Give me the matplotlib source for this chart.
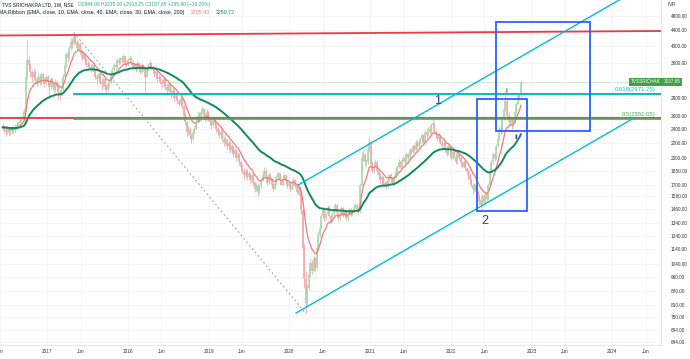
import numpy as np
import pandas as pd
import matplotlib
matplotlib.use("Agg")
import matplotlib.pyplot as plt
import matplotlib.dates as mdates
from matplotlib.patches import Rectangle
from matplotlib.transforms import blended_transform_factory

plt.rcParams['font.family'] = ['Liberation Sans', 'DejaVu Sans']

# --- weekly candles (close / high / low), week of 2016-06-13 .. 2022-11-14 ---
close_a = [2420, 2380, 2350, 2400, 2330, 2390, 2360, 2420, 2400, 2450,
           2480, 2520, 2560, 2600, 2680, 3300, 3650,
           3550, 3400, 3300, 3400, 3250, 3200,
           3300, 3200, 3350, 3250, 3150, 3300, 3200, 3100, 3250, 3150, 3050, 3200, 3100, 3000, 2950, 3050,
           3300, 3550, 3800, 3700, 3950, 4100, 4050, 4250]
high_a = [2480, 2450, 2410, 2440, 2420, 2420, 2410, 2460, 2470, 2490,
          2520, 2560, 2600, 2650, 2720, 3450, 4150,
          3750, 3600, 3450, 3480, 3450, 3320,
          3380, 3330, 3400, 3380, 3280, 3350, 3330, 3230, 3300, 3280, 3180, 3250, 3230, 3130, 3030, 3100,
          3350, 3600, 3850, 3880, 4000, 4200, 4180, 4334]
low_a = [2360, 2330, 2290, 2320, 2290, 2310, 2320, 2340, 2350, 2380,
         2420, 2450, 2490, 2530, 2580, 2650, 3250,
         3450, 3300, 3200, 3250, 3180, 3100,
         3150, 3130, 3150, 3200, 3100, 3130, 3150, 2950, 3070, 3100, 2950, 3030, 3050, 2900, 2870, 2930,
         3030, 3280, 3500, 3620, 3680, 3900, 3950, 4020]

close_b = [4100, 3950, 4050, 3850, 3700, 3800, 3650, 3550, 3600, 3500, 3450, 3550,
           3400, 3300, 3250, 3350, 3200, 3150, 3250, 3100, 3050, 3150, 3200, 3300,
           3450, 3550, 3500, 3650, 3600, 3700, 3650, 3750, 3600, 3550, 3650, 3700,
           3600, 3500, 3550, 3450, 3600, 3500, 3400, 3550, 3500, 3300, 3450, 3550, 3600, 3500]
high_b = [4280, 4150, 4120, 4080, 3900, 3850, 3820, 3700, 3650, 3620, 3550, 3600,
          3560, 3450, 3350, 3400, 3380, 3250, 3300, 3280, 3150, 3200, 3260, 3350,
          3500, 3600, 3580, 3700, 3680, 3740, 3720, 3790, 3760, 3650, 3700, 3760,
          3720, 3650, 3600, 3580, 3650, 3620, 3550, 3600, 3580, 3520, 3500, 3600, 3650, 3620]
low_b = [4050, 3900, 3920, 3800, 3650, 3680, 3600, 3500, 3500, 3450, 3400, 3420,
         3350, 3250, 3150, 3200, 3150, 3050, 3120, 3050, 2980, 3020, 3100, 3150,
         3280, 3400, 3450, 3480, 3550, 3580, 3600, 3620, 3580, 3500, 3520, 3620,
         3550, 3450, 3480, 3400, 3420, 3450, 3350, 3380, 3420, 3000, 3280, 3420, 3500, 3450]

close_c = [3450, 3350, 3400, 3250, 3300, 3200, 3150, 3250, 3100, 3050, 3150, 3000, 2950, 3050, 2900, 2950, 2850, 2800, 2900, 2750,
           2600, 2500, 2350, 2400, 2300, 2250, 2350, 2400, 2500,
           2600, 2550, 2650, 2700, 2600, 2550, 2650, 2550, 2500, 2450, 2550, 2450, 2400,
           2350, 2300, 2350, 2250, 2200, 2250, 2150, 2200, 2100, 2150, 2050, 2100, 2000, 2050, 1950, 1900,
           1850, 1800, 1850, 1780, 1820, 1750, 1800]
high_c = [3550, 3480, 3450, 3420, 3350, 3320, 3250, 3300, 3260, 3150, 3200, 3160, 3050, 3100, 3060, 3000, 2960, 2880, 2950, 2920,
          2780, 2650, 2520, 2450, 2420, 2320, 2380, 2450, 2540,
          2680, 2650, 2700, 2760, 2720, 2640, 2700, 2680, 2580, 2530, 2600, 2580, 2480,
          2430, 2380, 2400, 2380, 2280, 2300, 2270, 2240, 2220, 2180, 2160, 2140, 2120, 2080, 2060, 1980,
          1930, 1880, 1880, 1870, 1850, 1830, 1830]
low_c = [3380, 3300, 3300, 3200, 3220, 3150, 3080, 3120, 3050, 2980, 3020, 2950, 2880, 2920, 2850, 2870, 2800, 2750, 2780, 2700,
         2550, 2450, 2280, 2300, 2250, 2200, 2230, 2320, 2380,
         2480, 2500, 2520, 2620, 2560, 2500, 2520, 2520, 2460, 2400, 2420, 2420, 2350,
         2300, 2260, 2270, 2220, 2160, 2180, 2120, 2120, 2060, 2080, 2020, 2030, 1970, 1980, 1920, 1860,
         1820, 1760, 1780, 1750, 1760, 1720, 1730]

close_d = [1720, 1650, 1700, 1620, 1680, 1750, 1800, 1850, 1780, 1720, 1800, 1760, 1700, 1650, 1720,
           1780, 1820, 1750, 1700, 1760, 1800, 1740, 1680, 1720, 1650, 1700, 1750, 1680, 1620, 1660,
           1580, 1450, 1150, 950, 820,
           900, 980, 1050, 1000, 1080, 1020, 1150, 1250, 1300]
high_d = [1830, 1740, 1720, 1720, 1700, 1770, 1840, 1900, 1870, 1790, 1820, 1820, 1770, 1720, 1740,
          1800, 1850, 1830, 1760, 1790, 1830, 1810, 1750, 1740, 1730, 1720, 1780, 1760, 1700, 1680,
          1680, 1600, 1460, 1180, 1000,
          920, 1010, 1080, 1070, 1100, 1090, 1170, 1280, 1340]
low_d = [1690, 1620, 1630, 1580, 1600, 1660, 1740, 1780, 1760, 1700, 1710, 1740, 1680, 1620, 1640,
         1700, 1760, 1730, 1680, 1690, 1750, 1720, 1660, 1670, 1630, 1640, 1690, 1660, 1600, 1600,
         1560, 1420, 1100, 900, 768,
         800, 880, 960, 980, 990, 1000, 1010, 1130, 1230]

close_e = [1400, 1450, 1380, 1420, 1480, 1400, 1360, 1420, 1450, 1500, 1430, 1380, 1420,
           1470, 1400, 1440, 1380, 1420, 1460, 1410, 1450, 1480, 1500, 1460, 1440,
           1700, 2000, 2050, 1950, 1950, 2100, 2200, 1920, 1850, 1900, 1950,
           1850, 1800, 1750, 1780, 1700, 1720, 1680, 1750, 1800, 1760, 1720,
           1780, 1850, 1900, 1950, 1900, 1980, 2000, 1950, 2050, 2000, 2100, 2080, 2150, 2100, 2200]
high_e = [1420, 1480, 1470, 1440, 1500, 1490, 1420, 1440, 1470, 1520, 1510, 1440, 1440,
          1490, 1480, 1460, 1450, 1440, 1480, 1470, 1460, 1500, 1520, 1510, 1470,
          1720, 2080, 2120, 2070, 1990, 2140, 2280, 2210, 1960, 1930, 1990,
          1960, 1870, 1820, 1800, 1790, 1750, 1740, 1770, 1830, 1820, 1780,
          1800, 1880, 1920, 1990, 1970, 2000, 2040, 2020, 2080, 2070, 2130, 2130, 2180, 2170, 2230]
low_e = [1290, 1380, 1360, 1370, 1410, 1380, 1340, 1350, 1400, 1440, 1420, 1360, 1370,
         1410, 1390, 1390, 1370, 1370, 1410, 1400, 1400, 1440, 1470, 1440, 1420,
         1430, 1690, 1960, 1920, 1900, 1930, 2080, 1900, 1820, 1830, 1880,
         1830, 1770, 1720, 1720, 1680, 1680, 1650, 1670, 1730, 1740, 1700,
         1700, 1760, 1830, 1880, 1880, 1890, 1960, 1930, 1940, 1980, 1990, 2050, 2070, 2080, 2090]

close_f = [2150, 2200, 2250, 2300, 2200, 2350, 2300, 2400, 2350, 2450, 2480,
           2350, 2300, 2250, 2300, 2200,
           2150, 2200, 2100, 2050, 2150, 2100, 2000, 2080, 2020, 1950, 2050, 2000, 1950, 1900, 1950, 1880, 1850,
           1800, 1750, 1700, 1650, 1700, 1620, 1580,
           1550, 1500, 1580, 1520, 1600, 1560,
           1700, 1850, 1950, 2050, 2000, 2150, 2250, 2400, 2350, 2550, 2700, 2850,
           2600, 2500, 2550, 2450, 2500,
           2650, 2800, 2950, 2901.75, 3197.65]
high_f = [2240, 2230, 2280, 2330, 2310, 2380, 2370, 2430, 2420, 2480, 2580,
          2490, 2380, 2320, 2330, 2310,
          2230, 2240, 2210, 2120, 2180, 2170, 2110, 2100, 2090, 2030, 2080, 2060, 2010, 1960, 1980, 1960, 1900,
          1870, 1820, 1770, 1720, 1720, 1710, 1640,
          1600, 1560, 1600, 1590, 1620, 1610,
          1720, 1880, 1980, 2080, 2090, 2180, 2280, 2440, 2450, 2580, 2740, 3010,
          2880, 2650, 2600, 2580, 2540,
          2680, 2830, 2990, 2990, 3235]
low_f = [2120, 2130, 2180, 2230, 2180, 2190, 2280, 2290, 2320, 2340, 2400,
         2330, 2270, 2220, 2230, 2180,
         2120, 2120, 2080, 2030, 2040, 2070, 1980, 1990, 2000, 1930, 1940, 1980, 1930, 1880, 1890, 1860, 1820,
         1760, 1720, 1670, 1600, 1630, 1590, 1540,
         1500, 1460, 1490, 1500, 1510, 1530,
         1550, 1690, 1840, 1930, 1970, 1990, 2140, 2240, 2320, 2340, 2530, 2680,
         2560, 2450, 2470, 2400, 2420,
         2480, 2620, 2780, 2860, 2913.25]

closes = close_a + close_b + close_c + close_d + close_e + close_f
highs = high_a + high_b + high_c + high_d + high_e + high_f
lows = low_a + low_b + low_c + low_d + low_e + low_f
opens = [2400] + closes[:-1]
opens[-1] = 2944.00

y_ticks = [4800, 4400, 4000, 3600, 2900, 2600, 2400, 2200, 2000, 1850, 1700, 1580,
           1460, 1340, 1240, 1140, 1040, 960, 880, 810, 750, 694, 644]
x_tick_dates = ['2016-06-01', '2017-01-01', '2017-06-01', '2018-01-01', '2018-06-01', '2019-01-01',
                '2019-06-01', '2020-01-01', '2020-06-01', '2021-01-01', '2021-06-01', '2022-01-01',
                '2022-06-01', '2023-01-01', '2023-06-01', '2024-01-01', '2024-06-01']
x_tick_labels = ['Jun', '2017', 'Jun', '2018', 'Jun', '2019', 'Jun', '2020', 'Jun',
                 '2021', 'Jun', '2022', 'Jun', '2023', 'Jun', '2024', 'Jun']

fib_high, fib_low = 4333.7, 768.4
fib_618, fib_50 = 2971.75, 2551.05
legend_ema = ['2705.43', '2250.72']

dates = pd.date_range('2016-06-13', periods=len(closes), freq='W-MON')
df = pd.DataFrame({'open': opens, 'high': highs, 'low': lows, 'close': closes}, index=dates)
ema10 = df['close'].ewm(span=10, adjust=False).mean()
ema40 = df['close'].ewm(span=40, adjust=False).mean()

D = lambda s: mdates.datestr2num(s)
x = mdates.date2num(df.index.to_pydatetime())

fig = plt.figure(figsize=(6.9, 3.59), dpi=100)
ax = fig.add_axes([0, 14 / 359, 661 / 690, 345 / 359])
ax.set_yscale('log')
ax.set_xlim(D('2016-06-12'), D('2024-08-09'))
ax.set_ylim(633, 5297)

# grid + axes
ax.set_yticks(y_ticks)
ax.yaxis.set_minor_locator(matplotlib.ticker.NullLocator())
ax.set_yticklabels([f"{v:.2f}" for v in y_ticks])
ax.set_xticks([D(s) for s in x_tick_dates])
ax.set_xticklabels(x_tick_labels)
ax.grid(True, color='#f2f4f8', lw=0.6, zorder=0)
ax.yaxis.tick_right()
ax.tick_params(axis='y', length=0, pad=7, labelsize=3.4, labelcolor='#333333')
ax.tick_params(axis='x', length=0, pad=3, labelsize=3.4, labelcolor='#333333')
for s in ['top', 'left']:
    ax.spines[s].set_visible(False)
for s in ['right', 'bottom']:
    ax.spines[s].set_color('#e0e3eb')
    ax.spines[s].set_linewidth(0.6)

# current price line
ax.axhline(closes[-1], color='#cfe8cf', lw=0.7, zorder=1)

# candles
up = df['close'] >= df['open']
col = np.where(up, '#a9d9ad', '#f4a7ab')
ax.vlines(x, df['low'], df['high'], colors=col, lw=0.6, zorder=2)
ax.vlines(x, np.minimum(df['open'], df['close']), np.maximum(df['open'], df['close']),
          colors=col, lw=1.2, zorder=2)

# MA ribbon
ax.plot(x, ema10, color='#f3787c', lw=0.9, zorder=3)
ax.plot(x, ema40, color='#0f8a5f', lw=1.4, zorder=3)

# resistance / support
xl = ax.get_xlim()
ax.plot(xl, [4257, 4377], color='#f23645', lw=1.3, zorder=4)
ax.plot(xl, [2568, 2568], color='#e53935', lw=1.3, zorder=4)

# fib retracement
fx0 = D('2017-05-01')
ax.plot([fx0, D('2020-03-16')], [fib_high, fib_low], color='#9e9e9e', lw=0.8,
        ls=(0, (1.5, 2.5)), zorder=4)
ax.plot([fx0, xl[1]], [fib_618, fib_618], color='#00bcd4', lw=1.4, zorder=4)
ax.plot([fx0, xl[1]], [fib_50, fib_50], color='#4caf50', lw=1.2, zorder=4)
ax.text(D('2024-07-15'), fib_618 * 1.012, '0.618(2971.75)', color='#00bcd4', fontsize=4.3,
        ha='right', va='bottom')
ax.text(D('2024-07-15'), fib_50 * 1.012, '0.5(2551.05)', color='#4caf50', fontsize=4.3,
        ha='right', va='bottom')

# parallel channel
ax.plot([D('2020-02-01'), D('2024-04-05')], [771, 2554], color='#00bcd4', lw=1.0, zorder=4)
ax.plot([D('2020-02-10'), D('2024-05-06')], [1695, 5703], color='#00bcd4', lw=1.0, zorder=4)

# boxes
for (d0, d1, p0, p1) in [('2022-05-01', '2022-12-13', 1445, 2879),
                         ('2022-07-26', '2023-09-23', 2365, 4626)]:
    ax.add_patch(Rectangle((D(d0), p0), D(d1) - D(d0), p1 - p0, fill=False,
                           ec='#2962ff', lw=1.3, zorder=5))

# wave labels
wave = '#4b2aa8'
ax.text(D('2021-11-03'), 2844, '1', color=wave, fontsize=9, ha='center', va='center', zorder=6)
ax.text(D('2022-06-03'), 1358, '2', color=wave, fontsize=9, ha='center', va='center', zorder=6)
ax.text(D('2022-09-09'), 3024, 'i', color=wave, fontsize=6, ha='center', va='center', zorder=6)
ax.text(D('2022-10-25'), 2270, 'ii', color=wave, fontsize=6, ha='center', va='center', zorder=6)

# price tag on axis
tr = blended_transform_factory(ax.transAxes, ax.transData)
ax.text(0.999, closes[-1], 'TVSSRICHAK', transform=tr, ha='right', va='center', fontsize=3.3,
        color='white', bbox=dict(boxstyle='square,pad=0.35', fc='#43a047', ec='none'), zorder=7)
ax.text(1.004, closes[-1], '3197.65', transform=tr, ha='left', va='center', fontsize=3.3,
        color='white', bbox=dict(boxstyle='square,pad=0.35', fc='#43a047', ec='none'),
        zorder=7, clip_on=False)

fig.text(668 / 690, 1 - 5 / 359, 'INR', fontsize=3.4, color='#333333', va='center')


# header: pieces placed one after another
def text_row(x0, y, parts, size, gap):
    renderer = fig.canvas.get_renderer()
    xp = x0
    for s, c in parts:
        t = fig.text(xp / 690, y, s, fontsize=size, color=c, va='center')
        xp = t.get_window_extent(renderer).x1 + gap


text_row(2, 1 - 4.5 / 359, [('TVS SRICHAKRA LTD, 1W, NSE', '#131722'),
                            ('O2944.00 H3235.00 L2913.25 C3197.65 +295.90 (+10.20%)', '#26a69a')], 3.5, 4)
text_row(-1, 1 - 12.5 / 359, [('MA Ribbon (EMA, close, 10, EMA, close, 40, EMA, close, 30, EMA, close, 200)', '#131722'),
                              (legend_ema[0], '#f3787c'), (legend_ema[1], '#0f8a5f')], 3.8, 6)

fig.savefig('out.png', dpi=100)
